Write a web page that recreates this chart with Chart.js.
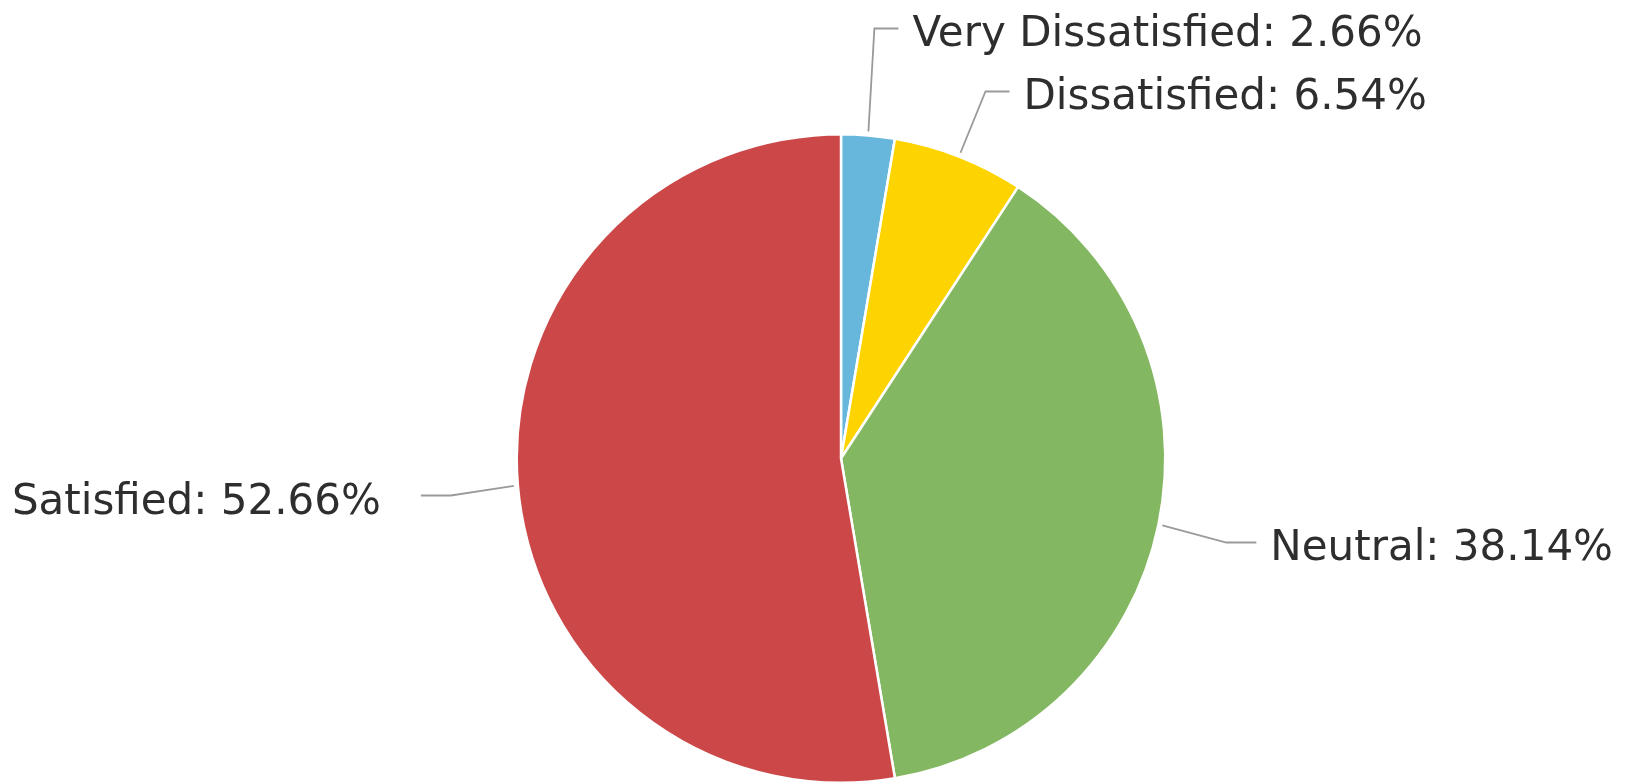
<!DOCTYPE html>
<html>
<head>
<meta charset="utf-8">
<script src="https://cdn.jsdelivr.net/npm/chart.js@4"></script>
<style>
  html, body { margin: 0; padding: 0; background: #fff; }
  #wrap { width: 1629px; height: 784px; position: relative; }
</style>
</head>
<body>
<div id="wrap"><canvas id="satisfaction-chart"></canvas></div>
<script>
// data
var categories = ['Very Dissatisfied', 'Dissatisfied', 'Neutral', 'Satisfied'];
var percents = [2.66, 6.54, 38.14, 52.66];
var sliceColors = ['#67b7dc', '#fdd400', '#84b761', '#cc4748'];

// where each label's elbow goes (dx from slice edge, dy from pie centre)
var labelLayout = [
  {dx: 6, dy: -430, len: 24},
  {dx: 25, dy: -367, len: 24},
  {dx: 64, dy: 84, len: 30},
  {dx: -63, dy: 37, len: 30}
];

// leader lines + labels drawn outside the pie
var outsideLabels = {
  id: 'outsideLabels',
  afterDatasetsDraw: function(chart) {
    var ctx = chart.ctx;
    var meta = chart.getDatasetMeta(0);
    ctx.save();
    ctx.font = '42px "DejaVu Sans"';
    ctx.textBaseline = 'middle';
    meta.data.forEach(function(arc, i) {
      var p = arc.getProps(['x', 'y', 'startAngle', 'endAngle', 'outerRadius'], true);
      var mid = (p.startAngle + p.endAngle) / 2;
      var sx = p.x + Math.cos(mid) * (p.outerRadius + 4);
      var sy = p.y + Math.sin(mid) * (p.outerRadius + 4);
      var lay = labelLayout[i];
      var ex = sx + lay.dx;
      var ey = p.y + lay.dy;
      var dir = lay.dx >= 0 ? 1 : -1;
      var hx = ex + dir * lay.len;

      ctx.strokeStyle = '#9a9a9a';
      ctx.lineWidth = 1.8;
      ctx.beginPath();
      ctx.moveTo(sx, sy);
      ctx.lineTo(ex, ey);
      ctx.lineTo(hx, ey);
      ctx.stroke();

      var text = categories[i] + ': ' + percents[i].toFixed(2) + '%';
      ctx.fillStyle = '#2e2e2e';
      if (dir > 0) {
        ctx.textAlign = 'left';
        ctx.fillText(text, hx + 14, ey + 7);
      } else {
        ctx.textAlign = 'right';
        ctx.fillText(text, hx - 40, ey + 8);
      }
    });
    ctx.restore();
  }
};

var ctx = document.getElementById('satisfaction-chart');
var myChart = new Chart(ctx, {
  type: 'pie',
  data: {
    labels: categories,
    datasets: [{
      data: percents,
      backgroundColor: sliceColors,
      borderColor: '#ffffff',
      borderWidth: 2.5
    }]
  },
  options: {
    responsive: true,
    maintainAspectRatio: false,
    animation: false,
    layout: {
      padding: {top: 133, bottom: 0, left: 404, right: 351}
    },
    plugins: {
      legend: { display: false },
      tooltip: { enabled: false }
    }
  },
  plugins: [outsideLabels]
});
</script>
</body>
</html>
